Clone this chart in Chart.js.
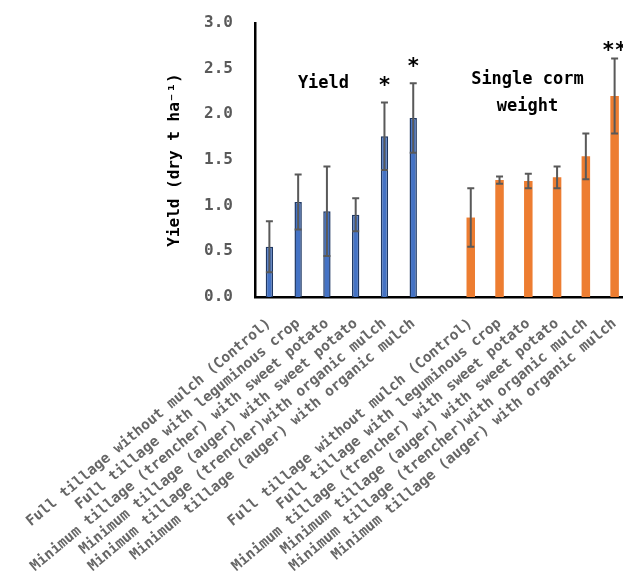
<!DOCTYPE html>
<html>
<head>
<meta charset="utf-8">
<script src="https://cdn.jsdelivr.net/npm/chart.js@4.4.1/dist/chart.umd.min.js"></script>
<style>
  html, body { margin: 0; padding: 0; background: #fff; overflow: hidden; }
</style>
</head>
<body>
<canvas id="yieldChart" width="630" height="577"></canvas>
<script>
// treatments, same order in both groups
const treatments = [
    'Full tillage without mulch (Control)',
    'Full tillage with leguminous crop',
    'Minimum tillage (trencher) with sweet potato',
    'Minimum tillage (auger) with sweet potato',
    'Minimum tillage (trencher)with organic mulch',
    'Minimum tillage (auger) with organic mulch'
];

const yieldValues = [0.55, 1.04, 0.94, 0.90, 1.76, 1.96];
const yieldErrors = [0.28, 0.30, 0.49, 0.18, 0.37, 0.38];
const yieldMarks  = ['', '', '', '', '*', '*'];

const cormValues = [0.87, 1.28, 1.27, 1.31, 1.54, 2.20];
const cormErrors = [0.32, 0.04, 0.08, 0.12, 0.25, 0.41];
const cormMarks  = ['', '', '', '', '', '**'];

const categories = [...treatments, '', ...treatments];
const gap = treatments.map(() => null);
const FONT = '"DejaVu Sans Mono", "Liberation Mono", monospace';

const errorBars = {
    id: 'errorBars',
    afterDatasetsDraw(chart) {
        const ctx = chart.ctx;
        const y = chart.scales.y;
        chart.data.datasets.forEach((ds, d) => {
            const meta = chart.getDatasetMeta(d);
            meta.data.forEach((bar, i) => {
                const v = ds.data[i];
                if (v == null) return;
                const e = ds.errors[i];
                const top = y.getPixelForValue(v + e);
                const bot = y.getPixelForValue(v - e);
                ctx.save();
                ctx.strokeStyle = '#595959';
                ctx.lineWidth = 2;
                ctx.beginPath();
                ctx.moveTo(bar.x, top); ctx.lineTo(bar.x, bot);
                ctx.moveTo(bar.x - 3.5, top); ctx.lineTo(bar.x + 3.5, top);
                ctx.moveTo(bar.x - 3.5, bot); ctx.lineTo(bar.x + 3.5, bot);
                ctx.stroke();

                const mark = ds.marks[i];
                if (mark) {
                    ctx.fillStyle = '#000';
                    ctx.font = 'bold 21px ' + FONT;
                    ctx.textAlign = 'center';
                    ctx.textBaseline = 'alphabetic';
                    ctx.fillText(mark, bar.x, top - (mark.length > 1 ? 2 : 10));
                }
                ctx.restore();
            });
        });
    }
};

const groupTitles = {
    id: 'groupTitles',
    afterDraw(chart) {
        const { ctx, scales: { x, y } } = chart;
        ctx.save();
        ctx.fillStyle = '#000';
        ctx.font = 'bold 17px ' + FONT;
        ctx.textAlign = 'center';
        ctx.textBaseline = 'middle';
        ctx.fillText('Yield', x.getPixelForValue(1.88), y.getPixelForValue(2.34));
        ctx.fillText('Single corm', x.getPixelForValue(8.97), y.getPixelForValue(2.38));
        ctx.fillText('weight', x.getPixelForValue(8.97), y.getPixelForValue(2.08));
        ctx.restore();
    }
};

new Chart(document.getElementById('yieldChart'), {
    type: 'bar',
    data: {
        labels: categories,
        datasets: [{
            label: 'Yield',
            data: [...yieldValues, null, ...gap],
            errors: [...yieldErrors, 0, ...gap],
            marks: [...yieldMarks, '', ...gap],
            backgroundColor: '#4472C4',
            borderColor: '#1F3864',
            borderWidth: 1.5,
            barPercentage: 0.32
        }, {
            label: 'Single corm weight',
            data: [...gap, null, ...cormValues],
            errors: [...gap, 0, ...cormErrors],
            marks: [...gap, '', ...cormMarks],
            backgroundColor: '#ED7D31',
            borderWidth: 0,
            barPercentage: 0.37
        }]
    },
    options: {
        responsive: false,
        animation: false,
        grouped: false,
        layout: { padding: { left: 161, top: 23, right: 1, bottom: 0 } },
        plugins: {
            legend: { display: false },
            tooltip: { enabled: false }
        },
        scales: {
            x: {
                categoryPercentage: 1,
                grid: { display: false, drawTicks: false },
                border: { display: true, color: '#000', width: 2.5 },
                ticks: {
                    autoSkip: false,
                    minRotation: 40,
                    maxRotation: 40,
                    padding: 18,
                    color: '#666',
                    font: { family: FONT, size: 14.5, weight: 'bold' }
                },
                afterFit(scale) {
                    scale.height = 280;
                    scale.paddingLeft = 0;
                    scale.paddingRight = 0;
                }
            },
            y: {
                min: 0,
                max: 3,
                grid: { display: false, drawTicks: false },
                border: { display: true, color: '#000', width: 2.5 },
                ticks: {
                    stepSize: 0.5,
                    padding: 22,
                    color: '#595959',
                    font: { family: FONT, size: 16, weight: 'bold' },
                    callback: v => v.toFixed(1)
                },
                title: {
                    display: true,
                    text: 'Yield (dry t ha\u207B\u00B9)',
                    color: '#000',
                    padding: { top: 4, bottom: 4 },
                    font: { family: FONT, size: 16, weight: 'bold' }
                },
                afterFit(scale) {
                    scale.width = 94;
                    scale.paddingTop = 0;
                    scale.paddingBottom = 0;
                }
            }
        }
    },
    plugins: [errorBars, groupTitles]
});
</script>
</body>
</html>
